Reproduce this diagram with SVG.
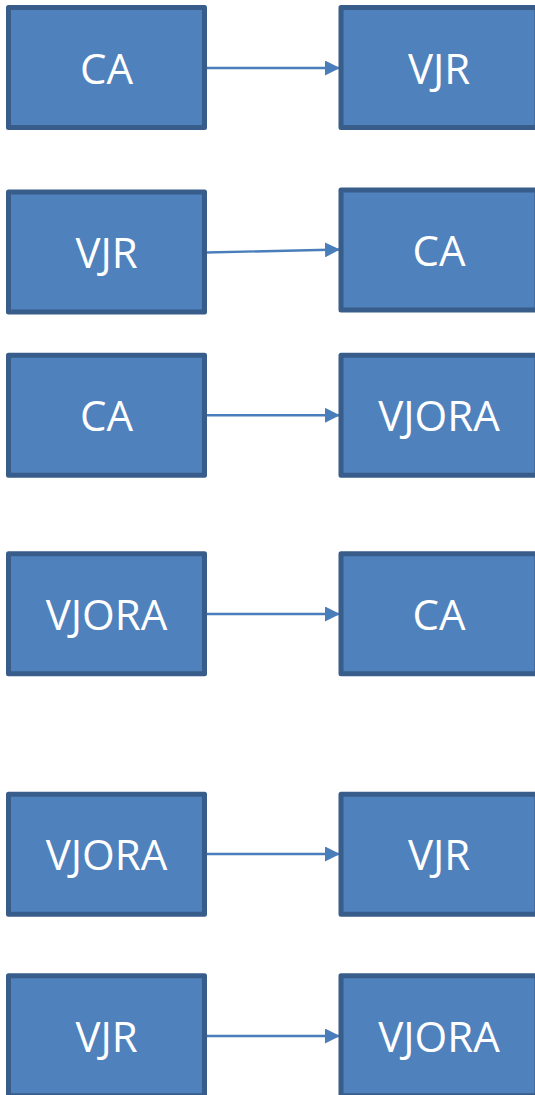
<svg xmlns="http://www.w3.org/2000/svg" width="535" height="1095" viewBox="0 0 535 1095">
<style>
.box{fill:#4F81BD;stroke:#385D8A;stroke-width:5;stroke-linejoin:round}
.lbl{fill:#FFFFFF;font-family:"Open Sans","Noto Sans","Liberation Sans",sans-serif;font-size:42px;text-anchor:middle}
.edge{stroke:#4A7EBB;stroke-width:2.4;fill:none;marker-end:url(#ah)}
</style>
<defs>
<marker id="ah" markerUnits="userSpaceOnUse" markerWidth="15" markerHeight="15" refX="15" refY="7.5" orient="auto" viewBox="0 0 15 15">
<path d="M0,0 L15,7.5 L0,15 Z" fill="#4A7EBB"/>
</marker>
</defs>
<rect width="535" height="1095" fill="#FFFFFF"/>
<g id="connectors">
<line class="edge" x1="206" y1="68" x2="340" y2="68"/>
<line class="edge" x1="206" y1="252.5" x2="340" y2="249.5"/>
<line class="edge" x1="206" y1="415.3" x2="340" y2="415.3"/>
<line class="edge" x1="206" y1="614" x2="340" y2="614"/>
<line class="edge" x1="206" y1="854" x2="340" y2="854"/>
<line class="edge" x1="206" y1="1036" x2="340" y2="1036"/>
</g>
<g id="n1a"><rect class="box" x="8.5" y="7.5" width="196" height="120"/><text class="lbl" x="106.5" y="84">CA</text></g>
<g id="n1b"><rect class="box" x="341" y="7.5" width="196" height="120"/><text class="lbl" x="439" y="84">VJR</text></g>
<g id="n2a"><rect class="box" x="8.5" y="192" width="196" height="120"/><text class="lbl" x="106.5" y="268">VJR</text></g>
<g id="n2b"><rect class="box" x="341" y="190" width="196" height="120"/><text class="lbl" x="439" y="266">CA</text></g>
<g id="n3a"><rect class="box" x="8.5" y="355.2" width="196" height="120"/><text class="lbl" x="106.5" y="431.2">CA</text></g>
<g id="n3b"><rect class="box" x="341" y="355.2" width="196" height="120"/><text class="lbl" x="439" y="431.2">VJORA</text></g>
<g id="n4a"><rect class="box" x="8.5" y="553.8" width="196" height="120"/><text class="lbl" x="106.5" y="629.8">VJORA</text></g>
<g id="n4b"><rect class="box" x="341" y="553.8" width="196" height="120"/><text class="lbl" x="439" y="629.8">CA</text></g>
<g id="n5a"><rect class="box" x="8.5" y="794.2" width="196" height="120"/><text class="lbl" x="106.5" y="870.2">VJORA</text></g>
<g id="n5b"><rect class="box" x="341" y="794.2" width="196" height="120"/><text class="lbl" x="439" y="870.2">VJR</text></g>
<g id="n6a"><rect class="box" x="8.5" y="975.8" width="196" height="120"/><text class="lbl" x="106.5" y="1051.8">VJR</text></g>
<g id="n6b"><rect class="box" x="341" y="975.8" width="196" height="120"/><text class="lbl" x="439" y="1051.8">VJORA</text></g>
</svg>
